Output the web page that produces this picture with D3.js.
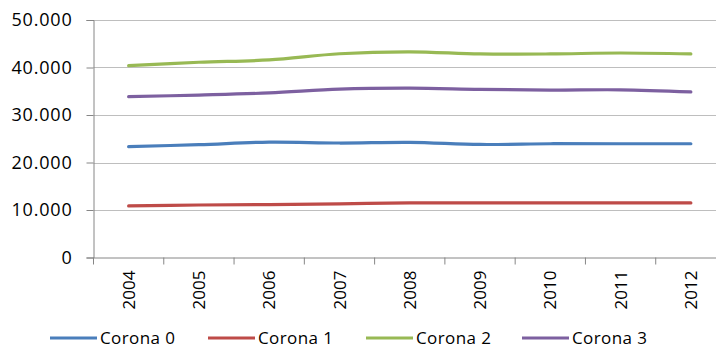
<!DOCTYPE html>
<html>
<head>
<meta charset="utf-8">
<script src="https://cdn.jsdelivr.net/npm/d3@7/dist/d3.min.js"></script>
<style>
  html, body { margin: 0; padding: 0; background: #fff; }
  svg { display: block; }
  text { font-family: "Open Sans", "Liberation Sans", sans-serif; fill: #000; }
</style>
</head>
<body>
<svg id="chart" width="716" height="348"></svg>
<script>
const years = ["2004","2005","2006","2007","2008","2009","2010","2011","2012"];
const seriesNames = ["Corona 0","Corona 1","Corona 2","Corona 3"];
const corona0 = [23350, 23750, 24300, 24100, 24250, 23800, 23950, 23950, 23950];
const corona1 = [10850, 11050, 11150, 11300, 11500, 11500, 11500, 11500, 11500];
const corona2 = [40380, 41100, 41600, 42900, 43300, 42850, 42850, 43050, 42850];
const corona3 = [33850, 34200, 34650, 35450, 35650, 35400, 35250, 35300, 34850];
const yTicks = [0, 10000, 20000, 30000, 40000, 50000];
const colors = ["#4A7EBB", "#BE4B48", "#98B954", "#7D60A0"];

const allSeries = [corona0, corona1, corona2, corona3];

const svg = d3.select("#chart");
const pLeft = 93.5, pRight = 726, pTop = 20, pBottom = 257.5;

const x = d3.scaleBand().domain(years).range([pLeft, pRight]);
const y = d3.scaleLinear().domain([0, 50000]).range([pBottom, pTop]);

const loc = d3.formatLocale({decimal: ",", thousands: ".", grouping: [3], currency: ["", ""]});
const fmt = loc.format(",.0f");

// gridlines
svg.append("g")
  .selectAll("line")
  .data(yTicks.filter(d => d > 0))
  .join("line")
  .attr("x1", pLeft).attr("x2", 716)
  .attr("y1", d => Math.round(y(d)) + 0.5).attr("y2", d => Math.round(y(d)) + 0.5)
  .attr("stroke", "#BEBEBE").attr("stroke-width", 1);

// y axis
const yAxis = d3.axisLeft(y).tickValues(yTicks).tickFormat(fmt).tickSize(7).tickPadding(14);
const gy = svg.append("g").attr("transform", `translate(${pLeft},0)`).call(yAxis);
gy.select(".domain").attr("stroke", "#868686");
gy.selectAll(".tick line").attr("stroke", "#868686");
gy.selectAll(".tick text").attr("font-size", "18px").attr("letter-spacing", "0.8px")
  .attr("font-family", "'Open Sans', sans-serif").attr("fill", "#000");

// x axis
const xAxis = d3.axisBottom(x).tickSize(0).tickFormat(d => d);
const gx = svg.append("g").attr("transform", `translate(0,${pBottom})`).call(xAxis);
gx.select(".domain").attr("stroke", "#868686").attr("d", `M${pLeft},0.5H716`);
gx.selectAll(".tick text")
  .attr("font-size", "17px")
  .attr("font-family", "'Open Sans', sans-serif")
  .attr("fill", "#1a1a1a")
  .attr("text-anchor", "end")
  .attr("transform", "rotate(-90)")
  .attr("x", -13)
  .attr("y", 0)
  .attr("dy", "0.36em");
// tick marks at category boundaries
const bounds = years.map(d => x(d));
svg.append("g").selectAll("line").data(bounds).join("line")
  .attr("x1", d => d).attr("x2", d => d)
  .attr("y1", pBottom).attr("y2", pBottom + 7)
  .attr("stroke", "#868686");

// lines
const line = d3.line()
  .x((d, i) => x(years[i]) + x.bandwidth() / 2)
  .y(d => y(d))
  .curve(d3.curveCardinal.tension(0));

svg.append("g").selectAll("path").data(allSeries).join("path")
  .attr("d", d => line(d))
  .attr("fill", "none")
  .attr("stroke", (d, i) => colors[i])
  .attr("stroke-width", 3.2)
  .attr("stroke-linecap", "round")
  .attr("stroke-linejoin", "round");

// legend
const legendX = [50, 208, 366, 522];
const lg = svg.append("g").selectAll("g").data(seriesNames).join("g")
  .attr("transform", (d, i) => `translate(${legendX[i]},338)`);
lg.append("line").attr("x1", 0).attr("x2", 47).attr("y1", 0).attr("y2", 0)
  .attr("stroke", (d, i) => colors[i]).attr("stroke-width", 3.2);
lg.append("text").attr("x", 50).attr("y", 0).attr("dy", "0.34em")
  .attr("font-size", "17px").attr("letter-spacing", "0.4px").text(d => d);
</script>
</body>
</html>
